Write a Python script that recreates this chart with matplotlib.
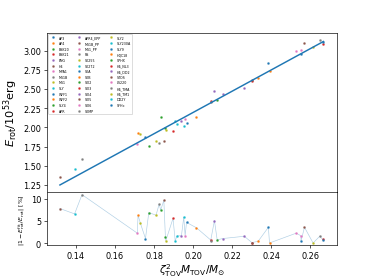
import numpy as np
import matplotlib
matplotlib.use("Agg")
import matplotlib.pyplot as plt

# EOS names in legend order
eos = ["AP3", "AP4", "BSK20", "BSK21", "ENG", "H4", "MPA1", "MS1B", "MS1", "SLY",
       "WFF1", "WFF2", "SLY4", "APR", "APR4_EPP", "MS1B_PP", "MS1_PP", "RS", "SK255", "SK272",
       "SKA", "SKB", "SKI2", "SKI3", "SKI4", "SKI5", "SKI6", "SKMP", "SLY2", "SLY230A",
       "SLY9", "HQC18", "SPHX", "HS_NL3", "HS_DD2", "STOS", "LS220", "HS_TMA", "HS_TM1", "DD2Y",
       "SFHo"]

# zeta_TOV^2 * M_TOV / M_sun
zm = [0.1756, 0.1718, 0.1773, 0.1897, 0.2109, 0.2570, 0.2528, 0.2648, 0.2614, 0.1952,
      0.1966, 0.2017, 0.1834, 0.2089, 0.2152, 0.1318, 0.2552, 0.1431, 0.1730, 0.1393,
      0.2385, 0.2333, 0.1858, 0.2303, 0.1940, 0.1850, 0.1959, 0.1826, 0.1810, 0.1908,
      0.2552, 0.2391, 0.2123, 0.2667, 0.2262, 0.2303, 0.1714, 0.2089, 0.1860, 0.1918,
      0.2665]

# E_rot / 1e53 erg
erot = [1.88, 1.93, 1.76, 1.95, 2.48, 3.10, 3.00, 3.14, 3.05, 2.02,
        2.06, 2.14, 2.13, 2.34, 2.43, 1.36, 3.01, 1.59, 1.91, 1.46,
        2.84, 2.65, 1.99, 2.61, 2.08, 1.82, 2.11, 1.80, 1.82, 2.08,
        2.95, 2.74, 2.36, 3.09, 2.51, 2.62, 1.78, 2.33, 1.97, 2.05,
        3.11]

# relative deviation from the fit [%]
dev = [1.1, 6.3, 6.9, 5.6, 5.1, 3.6, 2.3, 1.6, 0.1, 5.9,
       4.7, 3.5, 7.5, 0.8, 1.1, 7.8, 1.7, 10.9, 4.5, 6.6,
       3.6, 0.5, 1.4, 0.1, 1.7, 9.6, 1.7, 8.8, 6.3, 0.6,
       0.5, 0.1, 0.8, 1.0, 1.6, 0.2, 2.3, 0.5, 0.6, 1.7,
       0.8]

# linear fit E = a*x + b
fit_coef = [13.86, -0.577]

zm = np.array(zm)
erot = np.array(erot)
dev = np.array(dev)

fig = plt.figure(figsize=(6.4, 4.79), dpi=58.44)
gs = fig.add_gridspec(2, 1, height_ratios=[3, 1], hspace=0,
                      left=0.125, right=0.9, top=0.88, bottom=0.12)
ax1 = fig.add_subplot(gs[0])
ax2 = fig.add_subplot(gs[1], sharex=ax1)

colors = plt.rcParams['axes.prop_cycle'].by_key()['color']
for i, name in enumerate(eos):
    c = colors[i % 10]
    ax1.plot(zm[i], erot[i], 's', ms=1.6, color=c, label=name)

xs = np.array([zm.min(), zm.max()])
ax1.plot(xs, fit_coef[0] * xs + fit_coef[1], color='tab:blue', lw=1.8)

order = np.argsort(zm, kind='stable')
ax2.plot(zm[order], dev[order], color='tab:blue', alpha=0.35, lw=0.8)
for i, name in enumerate(eos):
    ax2.plot(zm[i], dev[i], 's', ms=1.6, color=colors[i % 10])

ax1.legend(ncol=3, fontsize=4, loc='upper left', markerscale=1.0)
ax1.set_ylabel(r'$E_{\rm rot}/10^{53}$erg', fontsize=14)
plt.setp(ax1.get_xticklabels(), visible=False)
ax2.set_ylabel(r'$|1-E^{\rm fit}_{\rm rot}/E_{\rm rot}|$ [%]', fontsize=7.5)
ax2.set_xlabel(r'$\zeta^2_{\rm TOV}M_{\rm TOV}/M_{\odot}$', fontsize=13, labelpad=1)
ax2.set_yticks([0, 5, 10])

fig.savefig("out.png", dpi=58.44)
